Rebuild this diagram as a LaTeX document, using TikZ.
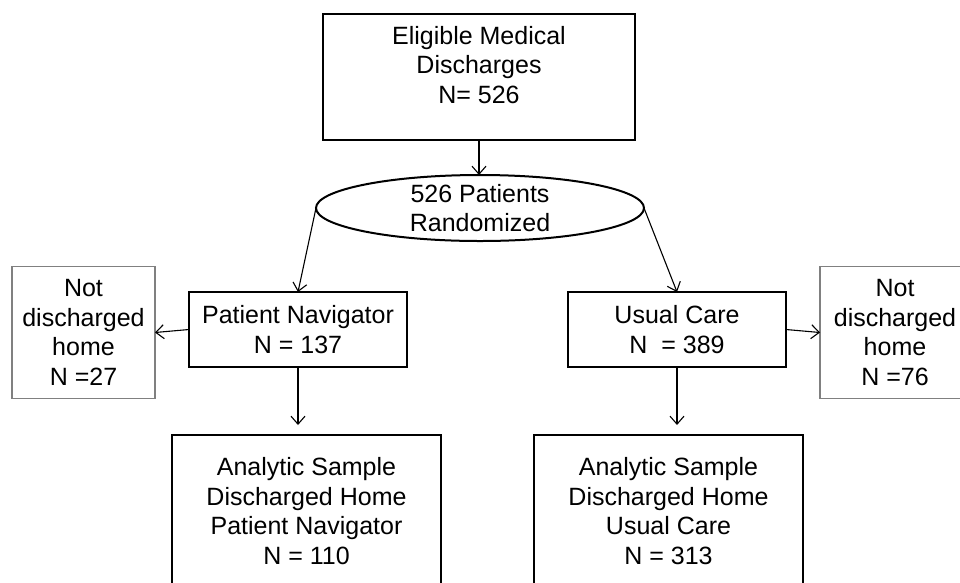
\documentclass[tikz,border=0pt]{standalone}
\usepackage{fontspec}
\setmainfont{Liberation Sans}
\usetikzlibrary{arrows.meta,calc,positioning,shapes.geometric}

\begin{document}
\begin{tikzpicture}[x=1pt,y=-1pt,align=center,font=\fontsize{25}{29.5}\selectfont]
\tikzstyle{mainbox}=[rectangle,draw=black,line width=2.6pt,inner sep=0pt,outer sep=0pt]
\tikzstyle{sidebox}=[rectangle,draw=black!50,line width=1.3pt,inner sep=0pt,outer sep=0pt,minimum height=132pt]
\tikzstyle{flow}=[-{Straight Barb[length=8pt,width=14pt]},line width=1.1pt]

\useasboundingbox (0,0) rectangle (960,582);
\clip (0,0) rectangle (960,582);

\node[mainbox, minimum width=312pt, minimum height=126pt] (eligible) at (479,77) {Eligible Medical\\Discharges\\N= 526\\[-5pt]~};
\node[ellipse, draw=black, line width=2pt, minimum width=328pt, minimum height=66pt, inner sep=0pt, outer sep=0pt] (random) at (480,208) {};
\node (randomtext) at (random) {526 Patients\\Randomized};

\node[mainbox, minimum width=218pt, minimum height=75pt] (navigator) at (298,329.5) {Patient Navigator\\N = 137};
\node[mainbox, minimum width=218pt, minimum height=75pt] (usual) at (677,329.5) {Usual Care\\N~~= 389};

\node[sidebox, minimum width=143pt] (navout) at (83.5,332.5) {Not\\discharged\\home\\N =27};
\node[sidebox, minimum width=150pt] (usualout) at (895,332.5) {Not\\discharged\\home\\N =76};

\node[mainbox, minimum width=269pt, minimum height=152pt] (navsample) at (306.5,511) {Analytic Sample\\Discharged Home\\Patient Navigator\\N = 110};
\node[mainbox, minimum width=269pt, minimum height=152pt] (usualsample) at (668.5,511) {Analytic Sample\\Discharged Home\\Usual Care\\N = 313};

\draw[flow] (eligible.south) -- (eligible.south |- random.north);
\draw[flow] (random.west) -- (navigator.north);
\draw[flow] (random.east) -- (usual.north);
\draw[flow] (navigator.west) -- (navout.east);
\draw[flow] (usual.east) -- (usualout.west);
\draw[flow, shorten >=10pt] (navigator.south) -- (navigator.south |- navsample.north);
\draw[flow, shorten >=10pt] (usual.south) -- (usual.south |- usualsample.north);
\end{tikzpicture}
\end{document}
